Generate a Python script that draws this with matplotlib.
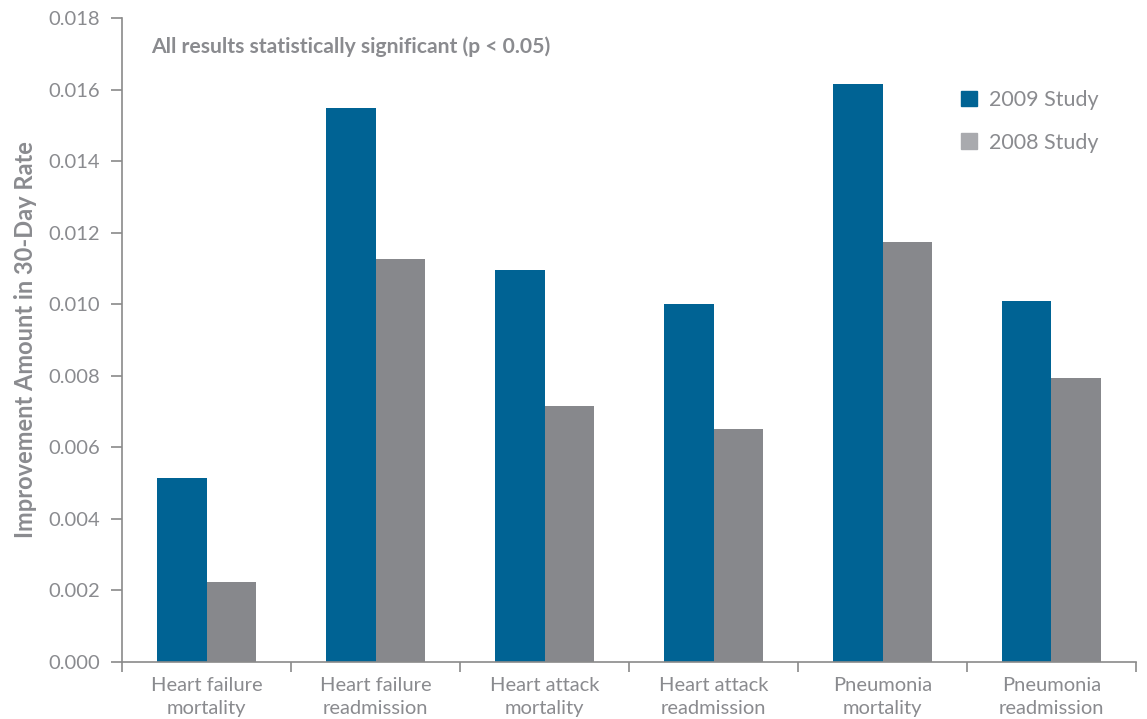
import matplotlib
matplotlib.use("Agg")
import matplotlib.pyplot as plt
import numpy as np
from matplotlib.patches import Patch

categories = [
    "Heart failure\nmortality",
    "Heart failure\nreadmission",
    "Heart attack\nmortality",
    "Heart attack\nreadmission",
    "Pneumonia\nmortality",
    "Pneumonia\nreadmission",
]
study_2009 = [0.00514, 0.01548, 0.01096, 0.01001, 0.01616, 0.01009]
study_2008 = [0.00224, 0.01126, 0.00716, 0.00651, 0.01174, 0.00794]
y_ticks = [0.000, 0.002, 0.004, 0.006, 0.008, 0.010, 0.012, 0.014, 0.016, 0.018]

BLUE = "#006394"
GREY = "#87888c"
GREY_LEGEND = "#a9aaae"
TEXT = "#8a8b8f"
AXIS = "#8a8a8a"

plt.rcParams["font.family"] = ["Lato", "DejaVu Sans"]

fig = plt.figure(figsize=(11.47, 7.19), dpi=100)
ax = fig.add_axes([0.1064, 0.0793, 0.884, 0.8957])

x = np.arange(len(categories))
width = 0.295
ax.bar(x - width / 2, study_2009, width, color=BLUE, linewidth=0)
ax.bar(x + width / 2, study_2008, width, color=GREY, linewidth=0)

ax.set_xlim(-0.5, len(categories) - 0.5)
ax.set_ylim(0, 0.018)
ax.set_yticks(y_ticks)
ax.set_yticklabels([f"{v:.3f}" for v in y_ticks], fontsize=14.5, color=TEXT)
ax.set_xticks(x)
ax.set_xticklabels(categories, fontsize=14.5, color=TEXT, linespacing=1.4)
ax.set_xticks(np.arange(len(categories) + 1) - 0.5, minor=True)
ax.tick_params(axis="x", which="major", length=0, pad=11)
ax.tick_params(axis="x", which="minor", length=7, color=AXIS, width=1.2, direction="out")
ax.tick_params(axis="y", length=8, color=AXIS, width=1.2, direction="out", pad=8)

for side in ["top", "right"]:
    ax.spines[side].set_visible(False)
for side in ["left", "bottom"]:
    ax.spines[side].set_color(AXIS)
    ax.spines[side].set_linewidth(1.2)

ax.set_ylabel("Improvement Amount in 30-Day Rate", fontsize=17, color=TEXT,
              fontweight="bold", labelpad=8)

ax.text(0.029, 0.955, "All results statistically significant (p < 0.05)",
        transform=ax.transAxes, fontsize=15.2, color=TEXT, fontweight="bold",
        ha="left", va="center")

handles = [Patch(color=BLUE, label="2009 Study"), Patch(color=GREY_LEGEND, label="2008 Study")]
leg = ax.legend(handles=handles, loc="upper left", bbox_to_anchor=(0.827, 0.888),
                frameon=False, fontsize=15.5, handlelength=0.75, handleheight=0.75,
                handletextpad=0.55, labelspacing=1.05, borderpad=0, borderaxespad=0)
for t in leg.get_texts():
    t.set_color(TEXT)

fig.savefig("out.png", dpi=100)
